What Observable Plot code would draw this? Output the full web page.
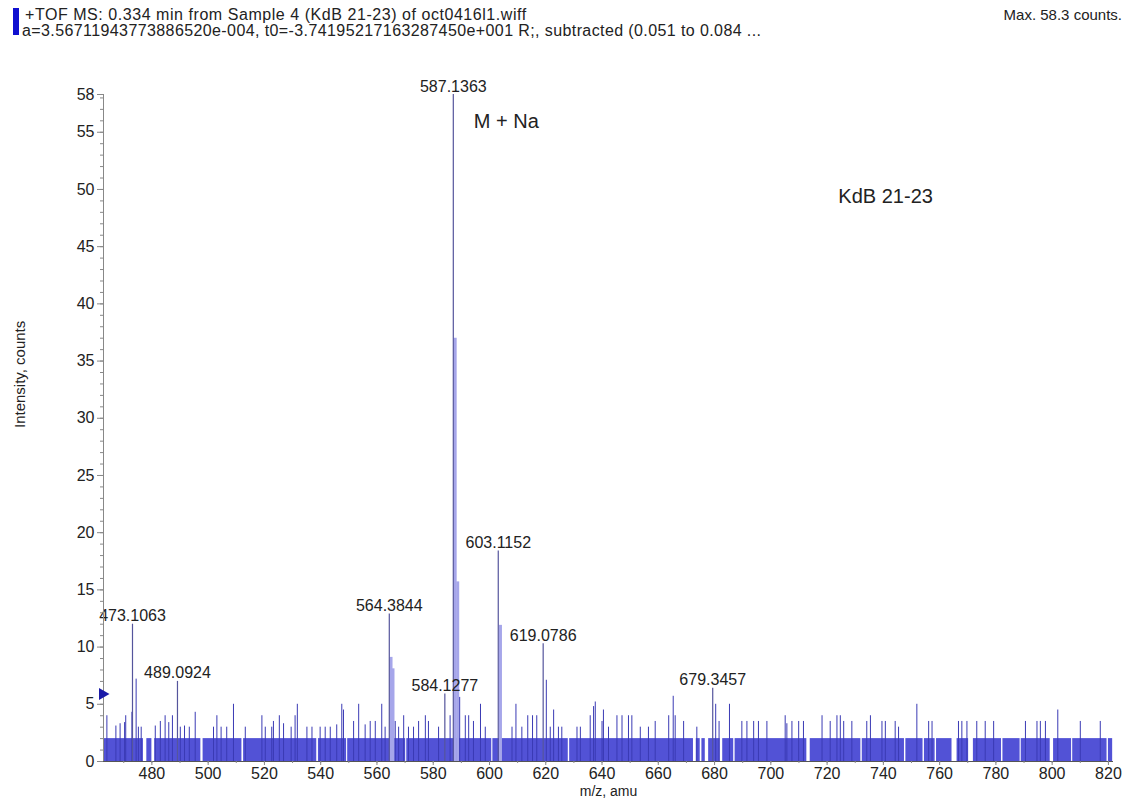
<!DOCTYPE html>
<html>
<head>
<meta charset="utf-8">
<script src="https://cdn.jsdelivr.net/npm/d3@7"></script>
<script src="https://cdn.jsdelivr.net/npm/@observablehq/plot@0.6"></script>
<style>
  html, body { margin: 0; padding: 0; background: #fff; }
  body { width: 1127px; height: 801px; position: relative; font-family: "Liberation Sans", Arial, sans-serif; color: #222; }
  #header { position: relative; height: 48px; }
  #swatch { position: absolute; left: 13px; top: 8px; width: 6px; height: 27px; background: #1010d0; }
  #l1 { position: absolute; left: 25px; top: 6px; font-size: 16px; letter-spacing: 0.55px; white-space: nowrap; }
  #l2 { position: absolute; left: 22px; top: 22px; font-size: 16px; letter-spacing: 0.4px; white-space: nowrap; }
  #mx { position: absolute; right: 5px; top: 6px; font-size: 15px; white-space: nowrap; }
  #chart svg { display: block; }
</style>
</head>
<body>
<div id="header">
  <div id="swatch"></div>
  <div id="l1"></div>
  <div id="l2"></div>
  <div id="mx"></div>
</div>
<div id="chart"></div>
<script>
// ---- text ----
const titleLine1 = "+TOF MS: 0.334 min from Sample 4 (KdB 21-23) of oct0416l1.wiff";
const titleLine2 = "a=3.56711943773886520e-004, t0=-3.74195217163287450e+001 R;, subtracted (0.051 to 0.084 ...";
const maxText = "Max. 58.3 counts.";
const xLabel = "m/z, amu";
const yLabel = "Intensity, counts";

// ---- axes ----
const xDomain = [462.8, 821.8];
const yDomain = [0, 58.3];
const xTicks = [480, 500, 520, 540, 560, 580, 600, 620, 640, 660, 680, 700, 720, 740, 760, 780, 800, 820];
const yTicks = [0, 5, 10, 15, 20, 25, 30, 35, 40, 45, 50, 55, 58.3];
const yTickLabels = ["0", "5", "10", "15", "20", "25", "30", "35", "40", "45", "50", "55", "58"];

// ---- labelled peaks ----
const peakMz  = [473.1063, 489.0924, 564.3844, 584.1277, 587.1363, 603.1152, 619.0786, 679.3457];
const peakInt = [12.0, 7.0, 12.9, 5.9, 58.3, 18.4, 10.3, 6.4];
const peakLabel = ["473.1063", "489.0924", "564.3844", "584.1277", "587.1363", "603.1152", "619.0786", "679.3457"];

// ---- broad (unresolved) shoulder bars next to main peaks ----
const shoulderMz  = [565.0, 565.7, 587.8, 588.7, 603.9];
const shoulderInt = [9.1, 8.1, 37.0, 15.7, 11.9];

// ---- thinner noise spikes above the floor ----
const noiseMz = [464.0, 467.2, 468.7, 470.3, 470.7, 472.9, 474.4, 475.2, 476.2, 481.2, 483.0, 484.7, 486.0, 487.3,
  490.1, 491.6, 493.3, 495.4, 501.9, 503.1, 504.6, 506.6, 509.0, 513.2, 519.1, 520.3, 522.6, 523.2, 525.3, 526.8,
  529.5, 530.9, 531.7, 535.1, 536.9, 539.8, 541.6, 543.4, 545.7, 547.5, 548.1, 551.7, 553.5, 555.8, 557.6, 559.4,
  561.7, 562.9, 566.5, 567.7, 569.5, 571.2, 573.0, 574.8, 577.2, 578.3, 581.9, 586.0, 589.4, 591.4, 592.6, 594.3,
  596.8, 598.5, 608.0, 609.4, 611.5, 613.6, 615.3, 616.8, 620.2, 621.6, 622.8, 624.5, 625.7, 631.1, 632.3, 635.8,
  637.0, 637.6, 640.0, 640.5, 642.3, 645.3, 647.1, 649.4, 650.6, 653.6, 656.5, 658.9, 663.7, 665.3, 666.0, 669.0,
  673.7, 680.4, 681.6, 685.3, 689.7, 691.5, 693.9, 695.6, 698.6, 705.1, 705.7, 707.5, 709.9, 711.6, 718.2, 721.1,
  723.5, 724.7, 725.9, 728.8, 734.1, 735.4, 739.5, 740.7, 744.2, 745.4, 751.9, 756.1, 757.3, 766.7, 767.9, 769.7,
  773.2, 776.2, 779.2, 790.5, 794.6, 795.8, 797.6, 802.0, 810.0, 817.1];
const noiseInt = [4.0, 3.1, 3.3, 3.4, 4.0, 4.3, 7.2, 3.0, 3.0, 3.1, 3.5, 4.0, 3.4, 4.0,
  3.0, 3.1, 3.0, 4.3, 3.0, 4.0, 3.0, 3.0, 5.0, 3.0, 4.0, 3.0, 3.0, 3.5, 4.0, 3.3,
  3.0, 4.0, 5.0, 3.0, 3.0, 3.0, 3.0, 3.0, 3.2, 5.0, 4.5, 3.5, 5.0, 3.2, 3.5, 3.5,
  5.0, 3.0, 3.5, 3.0, 4.0, 3.0, 3.0, 3.5, 4.0, 3.5, 3.0, 4.0, 5.6, 4.0, 4.0, 3.5,
  5.0, 3.0, 3.0, 5.0, 3.0, 4.0, 4.0, 4.0, 7.1, 3.0, 4.5, 3.0, 3.0, 3.0, 3.0, 4.0,
  4.8, 5.2, 3.5, 4.5, 3.0, 4.0, 4.0, 4.0, 4.0, 3.0, 3.0, 3.5, 4.0, 5.7, 4.0, 3.5,
  3.0, 5.0, 3.5, 5.0, 3.5, 3.5, 3.5, 3.5, 3.5, 4.0, 3.3, 3.5, 3.5, 3.5, 4.0, 3.5,
  4.0, 4.0, 3.5, 3.5, 3.5, 4.0, 3.5, 3.5, 3.5, 3.0, 5.0, 3.5, 3.5, 3.5, 3.5, 3.5,
  3.5, 3.5, 3.5, 3.5, 3.5, 3.5, 3.5, 4.5, 3.5, 3.5];

// ---- dense noise floor (about 2 counts) between gaps ----
const floorStart = [462.9, 478.2, 481.0, 498.2, 512.6, 539.2, 549.6, 570.6, 601.2, 628.5, 673.5, 675.5, 677.9, 682.9,
  687.3, 714.0, 732.5, 748.0, 754.6, 758.9, 766.2, 772.0, 782.5, 789.0, 800.5, 807.3, 820.0];
const floorEnd = [477.0, 480.0, 497.4, 512.0, 538.6, 549.2, 570.2, 600.8, 628.0, 672.5, 674.9, 676.7, 682.0, 686.8,
  712.8, 732.0, 747.5, 754.1, 758.4, 764.4, 770.3, 782.0, 788.6, 799.3, 806.9, 819.5, 821.5];
const floorLevel = 2;

// ---- free annotations ----
const noteText = ["M + Na", "KdB 21-23"];
const noteMz = [606.0, 740.8];
const noteInt = [55.9, 49.4];

// ---- threshold marker ----
const thresholdInt = 5.9;

// ---- build tables ----
const peaks = peakMz.map((mz, i) => ({mz, v: peakInt[i], label: peakLabel[i]}));
const shoulders = shoulderMz.map((mz, i) => ({mz, v: shoulderInt[i]}));
const noise = noiseMz.map((mz, i) => ({mz, v: noiseInt[i]}));
const floor = floorStart.map((s, i) => ({s, e: floorEnd[i], v: floorLevel}));
const notes = noteText.map((t, i) => ({t, mz: noteMz[i], v: noteInt[i]}));

document.getElementById("l1").textContent = titleLine1;
document.getElementById("l2").textContent = titleLine2;
document.getElementById("mx").textContent = maxText;

const chart = Plot.plot({
  width: 1127,
  height: 753,
  marginLeft: 103,
  marginRight: 14,
  marginTop: 46,
  marginBottom: 40,
  x: {domain: xDomain},
  y: {domain: yDomain},
  style: {fontFamily: "'Liberation Sans', Arial, sans-serif", fontSize: "16px", color: "#222", background: "#fff"},
  marks: [
    Plot.rectY(floor, {x1: "s", x2: "e", y: "v", fill: "#5252d6"}),
    Plot.ruleX(shoulders, {x: "mz", y1: 0, y2: "v", stroke: "#a6a6ea", strokeWidth: 3}),
    Plot.ruleX(noise, {x: "mz", y1: 0, y2: "v", stroke: "#3a3ab4", strokeWidth: 1}),
    Plot.ruleX(peaks, {x: "mz", y1: 0, y2: "v", stroke: "#55559c", strokeWidth: 1.2}),
    Plot.text(peaks, {x: "mz", y: "v", text: "label", dy: -3, lineAnchor: "bottom", fontSize: 16, fill: "#222"}),
    Plot.text(notes, {x: "mz", y: "v", text: "t", fontSize: 20, fill: "#222"}),
    Plot.ruleY([0], {stroke: "#555"}),
    Plot.ruleX([xDomain[0]], {stroke: "#888"}),
    Plot.axisY({ticks: d3.range(0, 59, 1), tickSize: 3, text: null, label: null, stroke: "#888"}),
    Plot.axisY({ticks: yTicks, tickSize: 6, tickPadding: 3, tickFormat: d => yTickLabels[yTicks.indexOf(d)], label: null, stroke: "#888", fontSize: 16}),
    Plot.axisX({ticks: d3.range(470, 821, 10), tickSize: 2, text: null, label: null, stroke: "#888"}),
    Plot.axisX({ticks: xTicks, tickSize: 4, tickPadding: 2, label: null, stroke: "#888", fontSize: 16}),
    Plot.text([xLabel], {frameAnchor: "bottom", dy: 34, fontSize: 14, fill: "#222"}),
    Plot.text([yLabel], {frameAnchor: "left", dx: -83, rotate: -90, fontSize: 15, fill: "#222"}),
    Plot.dot([thresholdInt], {x: () => xDomain[0], y: d => d, symbol: "triangle", rotate: 90, r: 4.5, fill: "#1a1aa8", dx: -1})
  ]
});
document.getElementById("chart").appendChild(chart);
</script>
</body>
</html>
